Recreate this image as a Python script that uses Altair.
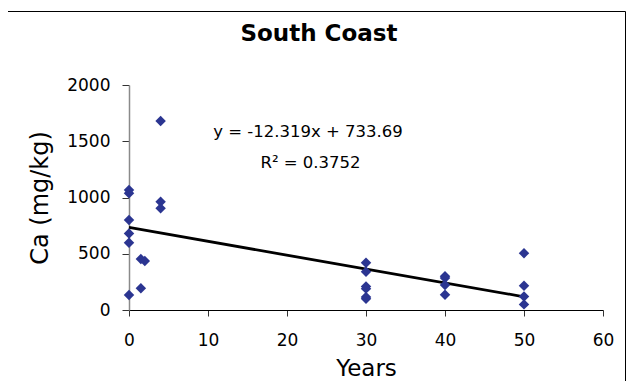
import altair as alt
import pandas as pd
import numpy as np

# Data
years = [0, 0, 0, 0, 0, 0, 1.5, 1.5, 2, 4, 4, 4,
         30, 30, 30, 30, 30, 30, 40, 40, 40, 40, 50, 50, 50, 50]
ca = [1067, 1037, 800, 681, 598, 133, 453, 193, 435, 1680, 963, 904,
      420, 340, 210, 190, 115, 100, 300, 285, 222, 135, 505, 215, 120, 50]

slope = -12.319
intercept = 733.69
r2 = 0.3752

x_ticks = [0, 10, 20, 30, 40, 50, 60]
y_ticks = [0, 500, 1000, 1500, 2000]

title_text = "South Coast"
eq_text = f"y = {slope}x + {intercept}"
r2_text = f"R\u00b2 = {r2}"

FONT = "DejaVu Sans"
W, H = 474, 225

pts = pd.DataFrame({"Years": years, "Ca": ca})
line_x = [min(years), max(years)]
line_df = pd.DataFrame({"Years": line_x,
                        "Ca": [intercept + slope * v for v in line_x]})
one = pd.DataFrame({"k": [0]})

xscale = alt.Scale(domain=[0, 60], nice=False)
yscale = alt.Scale(domain=[0, 2000], nice=False)

xaxis = alt.Axis(values=x_ticks, grid=False, title="Years", format="d",
                 domainColor="black", domainWidth=1,
                 tickColor="#333333", tickSize=6, tickWidth=1,
                 labelFont=FONT, labelFontSize=17, labelColor="black",
                 labelPadding=16, labelFlush=False,
                 titleFont=FONT, titleFontSize=23, titleFontWeight="normal",
                 titleColor="black", titleX=W / 2, titleY=65.5,
                 titleBaseline="alphabetic", titleAlign="center")
yaxis = alt.Axis(values=y_ticks, grid=False, title="Ca (mg/kg)", format="d",
                 domainColor="#8a8a8a", domainWidth=1.5,
                 tickColor="#333333", tickSize=7, tickWidth=1,
                 labelFont=FONT, labelFontSize=17, labelColor="black",
                 labelPadding=12, labelFlush=False,
                 titleFont=FONT, titleFontSize=24, titleFontWeight="normal",
                 titleColor="black", titleAngle=-90, titleX=-88.5,
                 titleY=H / 2, titleBaseline="middle", titleAlign="center")

points = alt.Chart(pts).mark_point(
    shape="diamond", filled=True, size=110, color="#2B3591", opacity=1
).encode(
    x=alt.X("Years:Q", scale=xscale, axis=xaxis),
    y=alt.Y("Ca:Q", scale=yscale, axis=yaxis),
)

trend = alt.Chart(line_df).mark_line(color="black", strokeWidth=2.8).encode(
    x=alt.X("Years:Q", scale=xscale),
    y=alt.Y("Ca:Q", scale=yscale),
)

border = alt.Chart(one).mark_rect(
    fill=None, stroke="black", strokeWidth=1
).encode(
    x=alt.value(-121.5), x2=alt.value(496.5),
    y=alt.value(-73.5), y2=alt.value(330),
)

title = alt.Chart(one).mark_text(
    text=title_text, font=FONT, fontSize=23, fontWeight="bold",
    color="black", align="center", baseline="alphabetic"
).encode(x=alt.value(190), y=alt.value(-44.5))

eq = alt.Chart(one).mark_text(
    text=eq_text, font=FONT, fontSize=16.5, color="black",
    align="center", baseline="alphabetic"
).encode(x=alt.value(179), y=alt.value(51.5))

r2t = alt.Chart(one).mark_text(
    text=r2_text, font=FONT, fontSize=16.5, color="black",
    align="center", baseline="alphabetic"
).encode(x=alt.value(181.5), y=alt.value(83))

chart = alt.layer(border, trend, points, title, eq, r2t).properties(
    width=W, height=H,
    background="white",
    autosize=alt.AutoSizeParams(type="none"),
    padding={"left": 121, "top": 77, "right": 23, "bottom": 71},
).configure_view(stroke=None)

chart.save("out.html", embed_options={"renderer": "svg", "actions": False})
